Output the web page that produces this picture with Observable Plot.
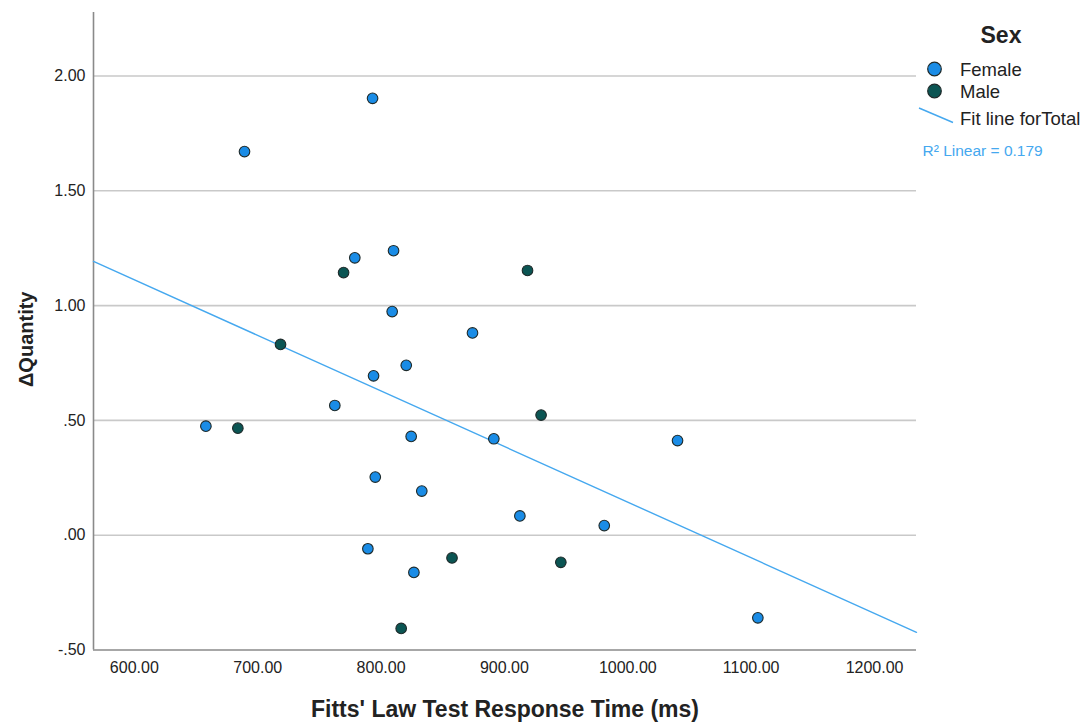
<!DOCTYPE html>
<html>
<head>
<meta charset="utf-8">
<script src="https://cdn.jsdelivr.net/npm/d3@7"></script>
<script src="https://cdn.jsdelivr.net/npm/@observablehq/plot@0.6"></script>
<style>
  html, body { margin: 0; padding: 0; background: #fff; }
  #wrap { position: relative; width: 1086px; height: 726px; font-family: "Liberation Sans", Arial, sans-serif; }
  #legend { position: absolute; left: 916px; top: 0; width: 170px; height: 200px; }
</style>
</head>
<body>
<div id="wrap">
  <div id="chart"></div>
  <svg id="legend" width="170" height="200"></svg>
</div>
<script>
// Response time (ms) and change in quantity per participant
const responseTime = [658.0, 683.9, 689.3, 718.5, 762.5, 769.6, 778.7, 789.3, 793.1, 793.9,
                      795.3, 809.0, 810.1, 816.3, 820.4, 824.4, 826.6, 833.0, 857.5, 874.1,
                      891.4, 912.5, 918.7, 929.7, 945.7, 980.9, 1040.3, 1105.4];
const deltaQuantity = [0.475, 0.466, 1.671, 0.831, 0.565, 1.144, 1.208, -0.059, 1.903, 0.694,
                       0.253, 0.974, 1.239, -0.406, 0.740, 0.430, -0.162, 0.192, -0.099, 0.881,
                       0.420, 0.084, 1.153, 0.523, -0.118, 0.042, 0.412, -0.360];
const sex = ["Female", "Male", "Female", "Male", "Female", "Male", "Female", "Female", "Female", "Female",
             "Female", "Female", "Female", "Male", "Female", "Female", "Female", "Female", "Male", "Female",
             "Female", "Female", "Male", "Male", "Male", "Female", "Female", "Female"];

const sexCategories = ["Female", "Male"];
const sexColors = ["#1a8ce6", "#0b5553"];
const fitColor = "#45a8ef";
const r2Label = "R\u00B2 Linear = 0.179";

const xTicks = [600, 700, 800, 900, 1000, 1100, 1200];
const yTicks = [-0.5, 0, 0.5, 1.0, 1.5, 2.0];
const gridValues = [0, 0.5, 1.0, 1.5, 2.0];

const xDomain = [566.9, 1234.0];
const yDomain = [-0.5, 2.2766];

const data = responseTime.map((t, i) => ({time: t, dq: deltaQuantity[i], sex: sex[i]}));

// Least-squares fit for the whole sample, extended across the axis range
const mx = d3.mean(responseTime), my = d3.mean(deltaQuantity);
const sxy = d3.sum(data, d => (d.time - mx) * (d.dq - my));
const sxx = d3.sum(data, d => (d.time - mx) ** 2);
const slope = sxy / sxx, intercept = my - slope * mx;
const fitLine = xDomain.map(x => ({time: x, dq: intercept + slope * x}));

// SPSS-style labels: no leading zero, hyphen for negatives
const fmtY = v => (v < 0 ? "-" : "") + Math.abs(v).toFixed(2).replace(/^0\./, ".");
const fmtX = v => v.toFixed(2);

const font = "Liberation Sans, Arial, sans-serif";

const chart = Plot.plot({
  width: 1086,
  height: 726,
  marginLeft: 93,
  marginRight: 170,
  marginTop: 12,
  marginBottom: 76.5,
  style: {fontFamily: font, background: "#fff", color: "#222"},
  x: {domain: xDomain, ticks: xTicks, tickFormat: fmtX},
  y: {domain: yDomain, ticks: yTicks, tickFormat: fmtY},
  color: {domain: sexCategories, range: sexColors},
  marks: [
    Plot.ruleY(gridValues, {stroke: "#c9c9c9", strokeWidth: 1.6}),
    Plot.ruleX([xDomain[0]], {stroke: "#8a8a8a", strokeWidth: 1.6}),
    Plot.ruleY([yDomain[0]], {stroke: "#8a8a8a", strokeWidth: 1.6}),
    Plot.axisX({ticks: xTicks, tickFormat: fmtX, tickSize: 0, tickPadding: 12, fontSize: 16, label: null}),
    Plot.axisY({ticks: yTicks, tickFormat: fmtY, tickSize: 0, tickPadding: 8, fontSize: 16, label: null}),
    Plot.line(fitLine, {x: "time", y: "dq", stroke: fitColor, strokeWidth: 1.4}),
    Plot.dot(data, {x: "time", y: "dq", fill: "sex", r: 5.3, stroke: "#1e2a2a", strokeWidth: 1.1}),
    Plot.text(["Fitts' Law Test Response Time (ms)"], {
      text: d => d, frameAnchor: "bottom", textAnchor: "middle", lineAnchor: "middle", dy: 60,
      fontSize: 23, fontWeight: "bold", fill: "#222"
    }),
    Plot.text(["\u0394Quantity"], {
      text: d => d, frameAnchor: "left", textAnchor: "middle", lineAnchor: "middle", rotate: -90, dx: -67, dy: 8,
      fontSize: 20, fontWeight: "bold", fill: "#222"
    })
  ]
});
document.getElementById("chart").appendChild(chart);

// Legend: sex categories, fit line and R² note
const lg = d3.select("#legend").attr("font-family", font);
lg.append("text").attr("x", 85).attr("y", 43).attr("text-anchor", "middle")
  .attr("font-size", 23).attr("font-weight", "bold").attr("fill", "#222").text("Sex");
sexCategories.forEach((c, i) => {
  const cy = 69 + i * 22;
  lg.append("circle").attr("cx", 18.5).attr("cy", cy).attr("r", 6.8)
    .attr("fill", sexColors[i]).attr("stroke", "#1e2a2a").attr("stroke-width", 1.2);
  lg.append("text").attr("x", 44).attr("y", cy + 6.5).attr("font-size", 18.5).attr("fill", "#222").text(c);
});
lg.append("line").attr("x1", 3).attr("y1", 108).attr("x2", 37).attr("y2", 122.5)
  .attr("stroke", fitColor).attr("stroke-width", 1.4);
lg.append("text").attr("x", 44).attr("y", 124.5).attr("font-size", 18.5).attr("fill", "#222").text("Fit line forTotal");
lg.append("text").attr("x", 6.5).attr("y", 155.5).attr("font-size", 15.5).attr("fill", fitColor).text(r2Label);
</script>
</body>
</html>
